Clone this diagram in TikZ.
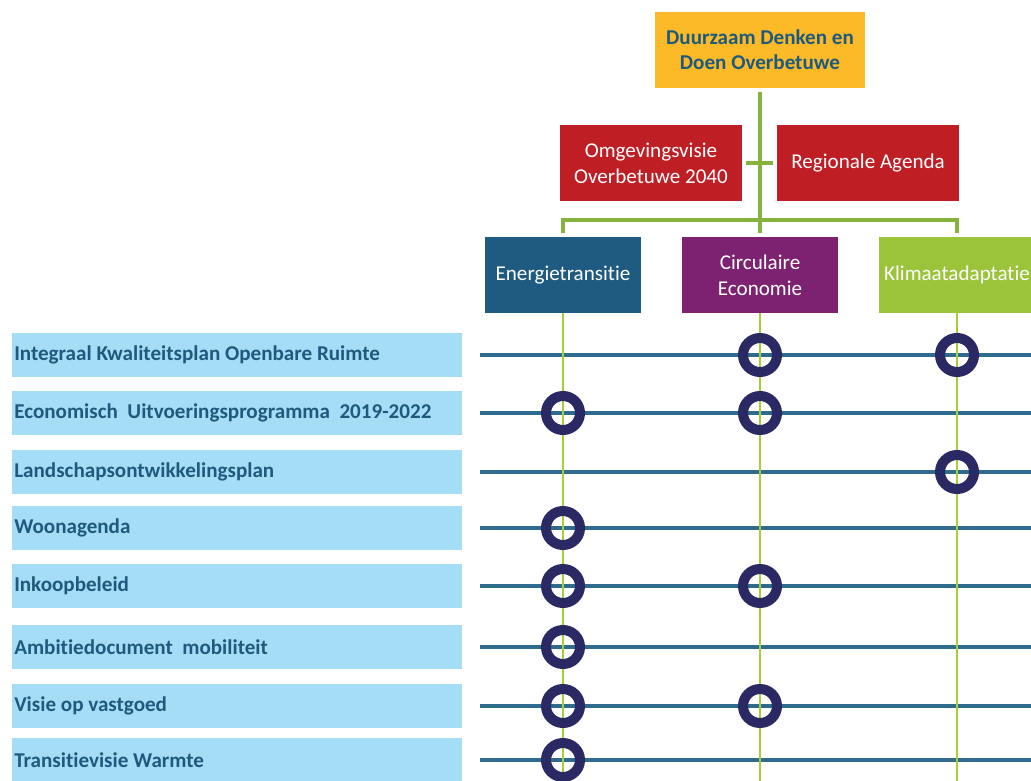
\documentclass[tikz,border=0pt]{standalone}
\usepackage{fontspec}
\setmainfont{Carlito}[Ligatures={NoCommon,NoRare}]

\definecolor{topyellow}{RGB}{253,186,40}
\definecolor{agendared}{RGB}{192,30,37}
\definecolor{energyblue}{RGB}{31,90,128}
\definecolor{circpurple}{RGB}{125,34,112}
\definecolor{climgreen}{RGB}{155,196,59}
\definecolor{treegreen}{RGB}{132,178,60}
\definecolor{colgreen}{RGB}{166,206,57}
\definecolor{planblue}{RGB}{166,221,246}
\definecolor{planteal}{RGB}{30,90,126}
\definecolor{rowblue}{RGB}{47,107,143}
\definecolor{ringnavy}{RGB}{42,41,100}

\begin{document}
\begin{tikzpicture}[x=0.025cm,y=-0.025cm,
    box/.style={rectangle,inner sep=2pt,align=center,text=white,
      font=\fontsize{15}{18.5}\selectfont},
    topbox/.style={box,fill=topyellow,text=planteal,minimum width=5.25cm,minimum height=1.9cm,
      font=\fontsize{15}{18}\selectfont\bfseries},
    redbox/.style={box,fill=agendared,minimum width=4.525cm,minimum height=1.875cm},
    colbox/.style={box,minimum width=3.875cm,minimum height=1.9cm},
    plan/.style={rectangle,fill=planblue,anchor=west,inner xsep=0.05cm,inner ysep=0pt,
      text width=11.15cm,align=flush left,minimum height=1.1cm,text=planteal,
      font=\fontsize{15}{17}\selectfont\bfseries},
    tree/.style={draw=treegreen,line width=2.8pt,shorten <=0.1cm,shorten >=0.1cm},
    colline/.style={draw=colgreen,line width=2pt},
    rowline/.style={draw=rowblue,line width=2.2pt,shorten <=0.425cm},
    ring/.style={circle,draw=ringnavy,line width=0.25cm,minimum size=0.85cm,inner sep=0pt}]
    \useasboundingbox (0,0) rectangle (1031,781);

    % tree at the top
    \node[topbox] (top) at (760,50) {Duurzaam Denken en\\Doen Overbetuwe};
    \node[redbox] (omg) at (651,163) {Omgevingsvisie\\Overbetuwe 2040};
    \node[redbox] (reg) at (868,163) {Regionale Agenda};
    \node[colbox,fill=energyblue] (ener) at (563,275) {Energietransitie};
    \node[colbox,fill=circpurple] (circ) at (760,275) {Circulaire\\Economie};
    \node[colbox,fill=climgreen] (klim) at (957,275) {Klimaatadaptatie};

    \coordinate (bar) at (760,220);
    \coordinate (bot) at (0,781);
    \coordinate (rend) at (1031,0);

    \draw[tree] (top.south) -- (circ.north);
    \draw[tree] (omg.east) -- (reg.west);
    \draw[tree] (ener.north) -- (ener.north |- bar) -- (klim.north |- bar) -- (klim.north);

    % plans
    \node[plan] (p1) at (12,355) {Integraal Kwaliteitsplan Openbare Ruimte};
    \node[plan] (p2) at (12,413) {Economisch\ \ Uitvoeringsprogramma\ \ 2019-2022};
    \node[plan] (p3) at (12,472) {Landschapsontwikkelingsplan};
    \node[plan] (p4) at (12,528) {Woonagenda};
    \node[plan] (p5) at (12,586) {Inkoopbeleid};
    \node[plan] (p6) at (12,647) {Ambitiedocument\ \ mobiliteit};
    \node[plan] (p7) at (12,706) {Visie op vastgoed};
    \node[plan] (p8) at (12,760) {Transitievisie Warmte};

    \foreach \p in {p1,p2,p3,p4,p5,p6,p7,p8}
      \draw[rowline] (\p.east) -- (\p.east -| rend);

    \draw[colline] (ener.south) -- (ener.south |- bot);
    \draw[colline] (circ.south) -- (circ.south |- bot);
    \draw[colline] (klim.south) -- (klim.south |- bot);

    % links between plans and themes
    \node[ring] (r1c) at (p1 -| circ) {};
    \node[ring] (r1k) at (p1 -| klim) {};
    \node[ring] (r2e) at (p2 -| ener) {};
    \node[ring] (r2c) at (p2 -| circ) {};
    \node[ring] (r3k) at (p3 -| klim) {};
    \node[ring] (r4e) at (p4 -| ener) {};
    \node[ring] (r5e) at (p5 -| ener) {};
    \node[ring] (r5c) at (p5 -| circ) {};
    \node[ring] (r6e) at (p6 -| ener) {};
    \node[ring] (r7e) at (p7 -| ener) {};
    \node[ring] (r7c) at (p7 -| circ) {};
    \node[ring] (r8e) at (p8 -| ener) {};
\end{tikzpicture}
\end{document}
